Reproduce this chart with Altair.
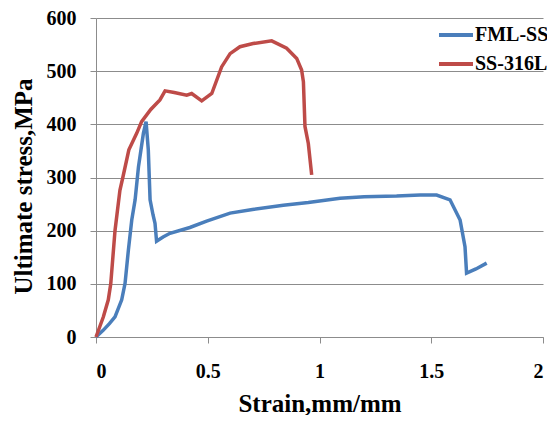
import altair as alt
import pandas as pd

# SS-316L
ss_x = [0, 0.033, 0.055, 0.066, 0.085, 0.107, 0.12, 0.147, 0.182, 0.204, 0.245, 0.286, 0.309,
        0.35, 0.406, 0.428, 0.473, 0.518, 0.562, 0.6, 0.644, 0.703, 0.786, 0.853, 0.898,
        0.92, 0.928, 0.935, 0.95, 0.965]
ss_y = [0, 38, 70, 100, 200, 276, 300, 352, 383, 405, 428, 446, 463,
        460, 455, 458, 444, 458, 508, 533, 546, 552, 557, 543, 524,
        502, 480, 396, 364, 305]

# FML-SS
fml_x = [0, 0.033, 0.06, 0.085, 0.115, 0.13, 0.145, 0.16, 0.175, 0.19, 0.212, 0.224, 0.234,
         0.242, 0.255, 0.264, 0.271, 0.3, 0.331, 0.42, 0.495, 0.6, 0.7, 0.838, 0.95, 1.092,
         1.2, 1.345, 1.45, 1.524, 1.584, 1.629, 1.651, 1.658, 1.7, 1.748]
fml_y = [0, 13, 25, 38, 70, 101, 164, 220, 258, 320, 383, 405, 352,
         258, 230, 214, 180, 188, 195, 206, 218, 233, 240, 248, 253, 261,
         264, 265, 267, 267, 258, 220, 170, 120, 128, 139]

series = ["FML-SS", "SS-316L"]
colors = ["#4a7ebb", "#be4b48"]
x_ticks = [0, 0.5, 1, 1.5, 2]
y_ticks = [0, 100, 200, 300, 400, 500, 600]

rows = []
for i, (x, y) in enumerate(zip(fml_x, fml_y)):
    rows.append({"strain": x, "stress": y, "series": "FML-SS", "idx": i})
for i, (x, y) in enumerate(zip(ss_x, ss_y)):
    rows.append({"strain": x, "stress": y, "series": "SS-316L", "idx": i})
df = pd.DataFrame(rows)

FONT = "Liberation Serif"

chart = alt.Chart(df).mark_line(strokeWidth=3.5).encode(
    x=alt.X("strain:Q",
            scale=alt.Scale(domain=[0, 2], nice=False),
            axis=alt.Axis(values=x_ticks, format="~g", grid=False, title="Strain,mm/mm",
                          domainColor="#8c8c8c", tickColor="#8c8c8c", tickSize=6,
                          labelPadding=18, titlePadding=10)),
    y=alt.Y("stress:Q",
            scale=alt.Scale(domain=[0, 600], nice=False),
            axis=alt.Axis(values=y_ticks, grid=True, gridColor="#8c8c8c", title="Ultimate stress,MPa",
                          domainColor="#8c8c8c", tickColor="#8c8c8c", tickSize=6,
                          labelPadding=14, titlePadding=10, titleY=168)),
    color=alt.Color("series:N",
                    scale=alt.Scale(domain=series, range=colors),
                    legend=alt.Legend(title=None, orient="none", legendX=341, legendY=-2,
                                      symbolType="stroke", symbolSize=1156, symbolStrokeWidth=4,
                                      labelFont=FONT, labelFontSize=20, labelFontWeight="bold",
                                      labelColor="#000000", labelOffset=0, rowPadding=0,
                                      padding=0)),
    order="idx:Q",
).properties(
    width=447, height=319,
    autosize=alt.AutoSizeParams(type="none"),
    padding={"left": 88, "top": 10, "right": 4, "bottom": 78},
).configure_view(
    stroke=None
).configure_axis(
    labelFont=FONT, labelFontSize=20, labelFontWeight="bold", labelColor="#000000",
    titleFont=FONT, titleFontSize=25, titleFontWeight="bold", titleColor="#000000",
    gridWidth=1, domainWidth=1,
)

chart.save("out.html", embed_options={"renderer": "svg", "actions": False})
